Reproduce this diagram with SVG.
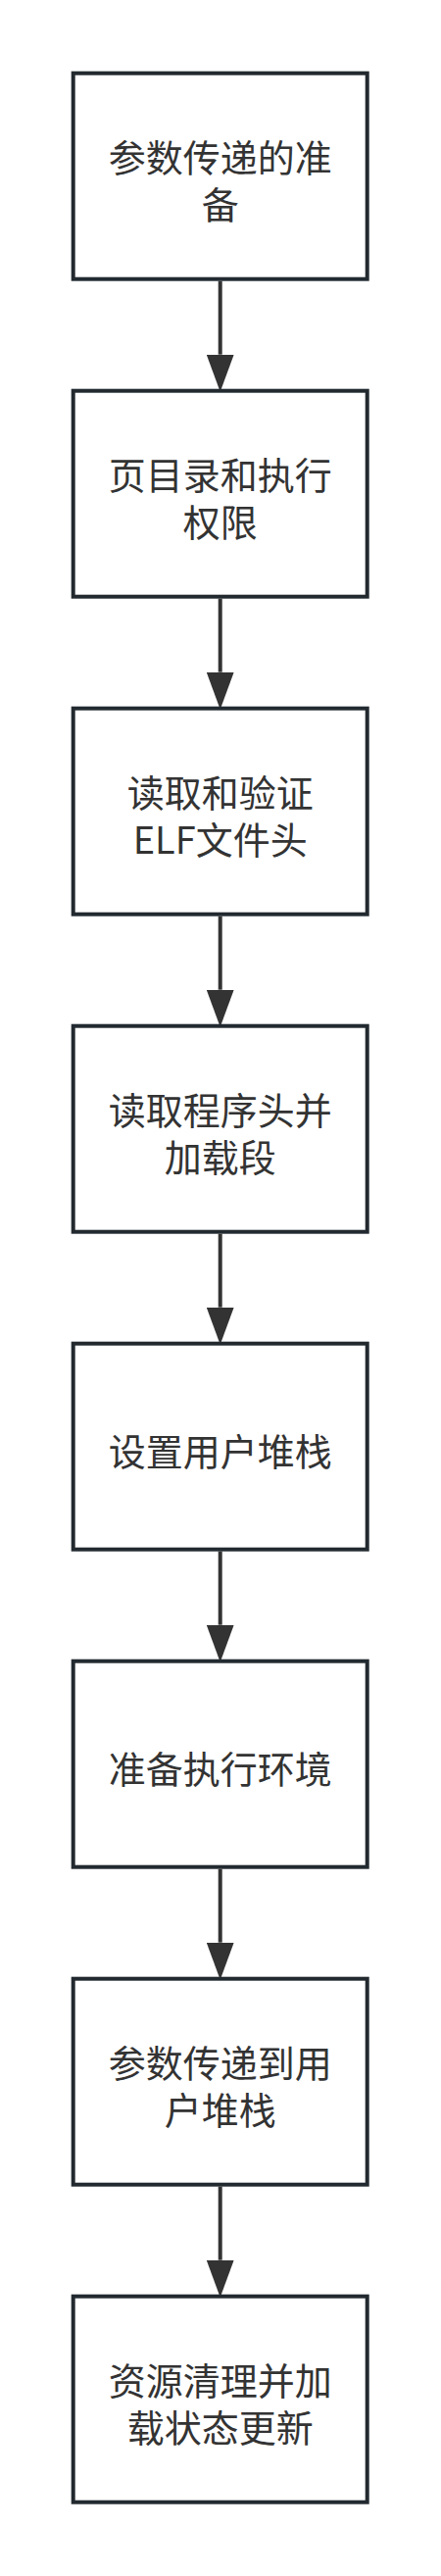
<svg xmlns="http://www.w3.org/2000/svg" width="450" height="2628" viewBox="0 0 450 2628">
<style>
.box{fill:#ffffff;stroke:#222a30;stroke-width:4}
.lbl{font-family:"Noto Sans CJK SC","Noto Sans",sans-serif;font-size:38px;fill:#333333;text-anchor:middle}
.edge{stroke:#333333;stroke-width:4;fill:none}
</style>
<defs>
<marker id="arr" markerUnits="userSpaceOnUse" markerWidth="38" markerHeight="28" viewBox="0 0 38 28" refX="0" refY="14" orient="auto">
<path d="M0,0 L38,14 L0,28 z" fill="#333333"/>
</marker>
</defs>
<rect width="450" height="2628" fill="#ffffff"/>
<g id="connectors">
<line class="edge" x1="224.7" y1="286.7" x2="224.7" y2="361.7" marker-end="url(#arr)"/>
<line class="edge" x1="224.7" y1="610.7" x2="224.7" y2="685.7" marker-end="url(#arr)"/>
<line class="edge" x1="224.7" y1="934.7" x2="224.7" y2="1009.7" marker-end="url(#arr)"/>
<line class="edge" x1="224.7" y1="1258.7" x2="224.7" y2="1333.7" marker-end="url(#arr)"/>
<line class="edge" x1="224.7" y1="1582.7" x2="224.7" y2="1657.7" marker-end="url(#arr)"/>
<line class="edge" x1="224.7" y1="1906.7" x2="224.7" y2="1981.7" marker-end="url(#arr)"/>
<line class="edge" x1="224.7" y1="2230.7" x2="224.7" y2="2305.7" marker-end="url(#arr)"/>
</g>
<g id="n1">
<rect class="box" x="74.7" y="74.7" width="300" height="210"/>
<text class="lbl" x="224.7" y="174.5">参数传递的准</text>
<text class="lbl" x="224.7" y="222.5">备</text>
</g>
<g id="n2">
<rect class="box" x="74.7" y="398.7" width="300" height="210"/>
<text class="lbl" x="224.7" y="498.5">页目录和执行</text>
<text class="lbl" x="224.7" y="546.5">权限</text>
</g>
<g id="n3">
<rect class="box" x="74.7" y="722.7" width="300" height="210"/>
<text class="lbl" x="224.7" y="822.5">读取和验证</text>
<text class="lbl" x="224.7" y="870.5">ELF文件头</text>
</g>
<g id="n4">
<rect class="box" x="74.7" y="1046.7" width="300" height="210"/>
<text class="lbl" x="224.7" y="1146.5">读取程序头并</text>
<text class="lbl" x="224.7" y="1194.5">加载段</text>
</g>
<g id="n5">
<rect class="box" x="74.7" y="1370.7" width="300" height="210"/>
<text class="lbl" x="224.7" y="1495">设置用户堆栈</text>
</g>
<g id="n6">
<rect class="box" x="74.7" y="1694.7" width="300" height="210"/>
<text class="lbl" x="224.7" y="1819">准备执行环境</text>
</g>
<g id="n7">
<rect class="box" x="74.7" y="2018.7" width="300" height="210"/>
<text class="lbl" x="224.7" y="2118.5">参数传递到用</text>
<text class="lbl" x="224.7" y="2166.5">户堆栈</text>
</g>
<g id="n8">
<rect class="box" x="74.7" y="2342.7" width="300" height="210"/>
<text class="lbl" x="224.7" y="2442.5">资源清理并加</text>
<text class="lbl" x="224.7" y="2490.5">载状态更新</text>
</g>
</svg>
